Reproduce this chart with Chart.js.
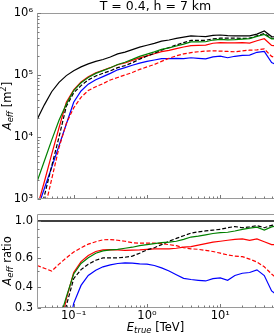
<!DOCTYPE html>
<html>
<head>
<meta charset="utf-8">
<script src="https://cdn.jsdelivr.net/npm/chart.js@4.4.0/dist/chart.umd.min.js"></script>
<style>
    html, body { margin: 0; padding: 0; background: #fff; overflow: hidden; }
    #wrap { position: relative; width: 274px; height: 335px; }
    canvas { position: absolute; left: 0; }
    #aeffChart { top: 0; }
    #ratioChart { top: 205px; }
</style>
</head>
<body>
<div id="wrap">
    <canvas id="aeffChart" width="274" height="212"></canvas>
    <canvas id="ratioChart" width="274" height="130"></canvas>
</div>
<script>
// true energy bins [TeV]
const energyTeV = [0.0316, 0.0398, 0.0501, 0.0631, 0.0794, 0.1, 0.126, 0.158, 0.2, 0.251,
    0.316, 0.398, 0.501, 0.631, 0.794, 1.0, 1.26, 1.58, 2.0, 2.51,
    3.16, 3.98, 5.01, 6.31, 7.94, 10.0, 12.6, 15.8, 20.0, 25.1,
    31.6, 39.8, 50.1, 63.1];

// effective area [m^2]
const aeffBlack = [19000, 33000, 53700, 75900, 97700, 117500, 135000, 151000, 166000, 178000,
    195000, 219000, 234000, 257000, 282000, 302000, 324000, 351000, 367000, 389000,
    407000, 427000, 422000, 417000, 437000, 442000, 432000, 427000, 427000, 427000,
    457000, 513000, 417000, 407000];
const aeffBlackDash = [400, 1120, 3390, 10000, 31300, 51600, 67400, 83200, 96200, 106700,
    117000, 131200, 141900, 158100, 180300, 202300, 223400, 252400, 277300, 305500,
    331900, 360600, 362200, 363100, 383700, 392600, 392600, 394500, 388200, 392600,
    428500, 466700, 391700, 390800];
const aeffGreen = [1900, 4100, 8900, 18600, 33900, 56200, 74800, 90800, 106200, 117500,
    130600, 147600, 160700, 178600, 200000, 217300, 236000, 259400, 273500, 293800,
    315500, 341200, 341200, 343600, 366400, 375000, 369000, 371500, 380200, 386400,
    418800, 450800, 383700, 382800];
const aeffRed = [720, 1900, 5250, 14100, 36300, 57500, 76900, 93800, 108700, 119100,
    131200, 146600, 156000, 171800, 188800, 203700, 220300, 238800, 250000, 266700,
    283100, 298500, 301300, 304100, 325100, 333400, 330400, 330400, 332700, 326600,
    356500, 384600, 299900, 293100];
const aeffRedDash = [200, 650, 2090, 6760, 16600, 29500, 43700, 56200, 64600, 72400,
    83200, 91200, 100000, 109600, 123000, 134900, 147900, 166000, 186200, 204200,
    218800, 229100, 237100, 242700, 245500, 242700, 239900, 237100, 245500, 251200,
    254100, 263000, 199500, 182000];
const aeffBlue = [660, 1480, 3240, 7240, 16200, 36300, 55300, 71100, 83800, 94200,
    106200, 121300, 131200, 143500, 155600, 166000, 174600, 183200, 183700, 184900,
    184100, 189700, 185400, 181600, 196300, 201000, 189700, 200400, 207000, 208900,
    232300, 241000, 158500, 142600];

// ratios
const ratioBlack = [1, 1, 1, 1, 1, 1, 1, 1, 1, 1, 1, 1, 1, 1, 1, 1, 1,
    1, 1, 1, 1, 1, 1, 1, 1, 1, 1, 1, 1, 1, 1, 1, 1, 1];
const ratioBlackDash = [0.05, 0.08, 0.13, 0.2, 0.31, 0.45, 0.51, 0.55, 0.58, 0.60,
    0.60, 0.60, 0.605, 0.615, 0.64, 0.67, 0.69, 0.72, 0.755, 0.785,
    0.815, 0.845, 0.86, 0.87, 0.88, 0.89, 0.91, 0.925, 0.91, 0.92,
    0.937, 0.91, 0.94, 0.96];
const ratioGreen = [0.10, 0.14, 0.19, 0.25, 0.35, 0.48, 0.555, 0.60, 0.64, 0.66,
    0.67, 0.675, 0.685, 0.695, 0.71, 0.72, 0.73, 0.74, 0.745, 0.755,
    0.775, 0.80, 0.81, 0.825, 0.84, 0.85, 0.855, 0.87, 0.89, 0.905,
    0.917, 0.88, 0.92, 0.94];
const ratioRed = [0.05, 0.09, 0.14, 0.21, 0.34, 0.49, 0.57, 0.62, 0.655, 0.67,
    0.673, 0.67, 0.665, 0.668, 0.67, 0.675, 0.68, 0.68, 0.68, 0.685,
    0.695, 0.70, 0.715, 0.73, 0.745, 0.755, 0.765, 0.775, 0.78, 0.765,
    0.78, 0.75, 0.72, 0.72];
const ratioRedDash = [0.54, 0.52, 0.50, 0.55, 0.60, 0.65, 0.69, 0.725, 0.75, 0.77,
    0.772, 0.765, 0.755, 0.74, 0.735, 0.735, 0.735, 0.73, 0.72, 0.71,
    0.69, 0.68, 0.675, 0.665, 0.655, 0.64, 0.625, 0.615, 0.61, 0.59,
    0.566, 0.53, 0.48, 0.44];
const ratioBlue = [0.03, 0.05, 0.08, 0.12, 0.19, 0.32, 0.41, 0.47, 0.505, 0.53,
    0.545, 0.555, 0.56, 0.558, 0.552, 0.55, 0.54, 0.522, 0.50, 0.475,
    0.452, 0.445, 0.44, 0.436, 0.45, 0.455, 0.44, 0.47, 0.485, 0.49,
    0.508, 0.47, 0.38, 0.35];

// ticks
const xTicks = [0.1, 1, 10];
const xTickLabels = ['10⁻¹', '10⁰', '10¹'];
const aeffTicks = [1e3, 1e4, 1e5, 1e6];
const aeffTickLabels = ['10³', '10⁴', '10⁵', '10⁶'];
const ratioTicks = [0.3, 0.4, 0.6, 1.0];
const ratioTickLabels = ['0.3', '0.4', '0.6', '1.0'];

const FONT = '"DejaVu Sans", sans-serif';

function fontOf(size, italic) {
    return (italic ? 'italic ' : '') + size + 'px ' + FONT;
}

// parts: [text, size, italic, dy]
function drawRich(ctx, parts, x, y, vertical) {
    ctx.save();
    ctx.translate(x, y);
    if (vertical) ctx.rotate(-Math.PI / 2);
    ctx.textBaseline = 'middle';
    ctx.textAlign = 'left';
    ctx.fillStyle = '#000';
    let total = 0;
    const widths = parts.map(p => {
        ctx.font = fontOf(p[1], p[2]);
        const w = ctx.measureText(p[0]).width;
        total += w;
        return w;
    });
    let cx = -total / 2;
    parts.forEach((p, i) => {
        ctx.font = fontOf(p[1], p[2]);
        ctx.fillText(p[0], cx, p[3]);
        cx += widths[i];
    });
    ctx.restore();
}

function series(ys, color, dashed, width) {
    return {
        data: energyTeV.map((e, i) => ({ x: e, y: ys[i] })),
        borderColor: color,
        borderWidth: width || 1.2,
        borderDash: dashed ? [4, 2] : [],
        pointRadius: 0,
        fill: false
    };
}

function logMinor(lo, hi) {
    const out = [];
    for (let d = -3; d <= 6; d++) {
        for (let m = 1; m <= 9; m++) {
            const v = m * Math.pow(10, d);
            if (v >= lo && v <= hi) out.push({ v: v, major: m === 1 });
        }
    }
    return out;
}

function decor(id, yMarks, texts) {
    return {
        id: id,
        afterDraw(chart) {
            const { ctx, chartArea: a, scales } = chart;
            const L = Math.round(a.left) + 0.5, T = Math.round(a.top) + 0.5, B = Math.round(a.bottom) - 0.5;
            ctx.save();
            ctx.strokeStyle = '#9a9a9a';
            ctx.lineWidth = 1;
            ctx.beginPath();
            ctx.moveTo(a.right + 2, T);
            ctx.lineTo(L, T);
            ctx.lineTo(L, B);
            ctx.lineTo(a.right + 2, B);
            ctx.stroke();

            ctx.strokeStyle = '#777';
            ctx.beginPath();
            logMinor(scales.x.min, scales.x.max).forEach(t => {
                const px = Math.round(scales.x.getPixelForValue(t.v)) + 0.5;
                ctx.moveTo(px, B);
                ctx.lineTo(px, B - (t.major ? 3.5 : 2));
            });
            yMarks(scales.y).forEach(t => {
                const py = Math.round(scales.y.getPixelForValue(t.v)) + 0.5;
                ctx.moveTo(L, py);
                ctx.lineTo(L + (t.major ? 3.5 : 2), py);
            });
            ctx.stroke();
            ctx.restore();
            texts(ctx);
        }
    };
}

function baseScales(yMin, yMax, yTicks, yLabels, xHeight, showX) {
    return {
        x: {
            type: 'logarithmic',
            min: 0.0316,
            max: 54,
            afterFit: s => { s.height = xHeight; },
            afterBuildTicks: s => { s.ticks = xTicks.map(v => ({ value: v })); },
            ticks: {
                display: showX,
                autoSkip: false,
                maxRotation: 0,
                padding: 1,
                color: '#000',
                font: { family: FONT, size: 11.5 },
                callback: (v, i) => xTickLabels[i]
            },
            grid: { display: false, drawTicks: false },
            border: { display: false }
        },
        y: {
            type: 'logarithmic',
            min: yMin,
            max: yMax,
            afterFit: s => { s.width = 37; s.paddingTop = 0; s.paddingBottom = 0; },
            afterBuildTicks: s => { s.ticks = yTicks.map(v => ({ value: v })); },
            ticks: {
                autoSkip: false,
                padding: 4,
                color: '#000',
                font: { family: FONT, size: 11.5 },
                callback: (v, i) => yLabels[i]
            },
            grid: { display: false, drawTicks: false },
            border: { display: false }
        }
    };
}

const commonOpts = {
    responsive: false,
    animation: false,
    events: [],
    plugins: { legend: { display: false }, tooltip: { enabled: false } },
    elements: { line: { tension: 0 }, point: { radius: 0 } }
};

new Chart(document.getElementById('aeffChart'), {
    type: 'line',
    data: {
        datasets: [
            series(aeffBlack, '#000000', false),
            series(aeffGreen, '#008000', false),
            series(aeffBlackDash, '#000000', true),
            series(aeffRed, '#ff0000', false),
            series(aeffRedDash, '#ff0000', true),
            series(aeffBlue, '#0000ff', false)
        ]
    },
    options: Object.assign({}, commonOpts, {
        layout: { padding: { top: 13, right: 0, left: 0, bottom: 0 } },
        scales: baseScales(1e3, 1e6, aeffTicks, aeffTickLabels, 13, false)
    }),
    plugins: [decor('aeffDecor', sy => logMinor(sy.min, sy.max), ctx => {
        drawRich(ctx, [['T = 0.4, h = 7 km', 12.5, false, 0]], 155.5, 6.5, false);
        drawRich(ctx, [['A', 11.5, true, 0], ['eff', 8.5, true, 3], [' [m', 11.5, false, 0],
            ['2', 8.5, false, -4], [']', 11.5, false, 0]], 8, 106, true);
    })]
});

new Chart(document.getElementById('ratioChart'), {
    type: 'line',
    data: {
        datasets: [
            series(ratioBlack, '#000000', false, 1.5),
            series(ratioGreen, '#008000', false),
            series(ratioBlackDash, '#000000', true),
            series(ratioRed, '#ff0000', false),
            series(ratioRedDash, '#ff0000', true),
            series(ratioBlue, '#0000ff', false)
        ]
    },
    options: Object.assign({}, commonOpts, {
        layout: { padding: { top: 9, right: 0, left: 0, bottom: 0 } },
        scales: baseScales(0.3, 1.1, ratioTicks, ratioTickLabels, 27, true)
    }),
    plugins: [decor('ratioDecor', () => [0.3, 0.4, 0.5, 0.6, 0.7, 0.8, 0.9, 1.0].map(v => ({ v: v, major: ratioTicks.includes(v) })), ctx => {
        drawRich(ctx, [['E', 11.5, true, 0], ['true', 8.5, true, 3], [' [TeV]', 11.5, false, 0]], 155.5, 123, false);
        drawRich(ctx, [['A', 11.5, true, 0], ['eff', 8.5, true, 3], [' ratio', 11.5, false, 0]], 8, 56, true);
    })]
});
</script>
</body>
</html>
